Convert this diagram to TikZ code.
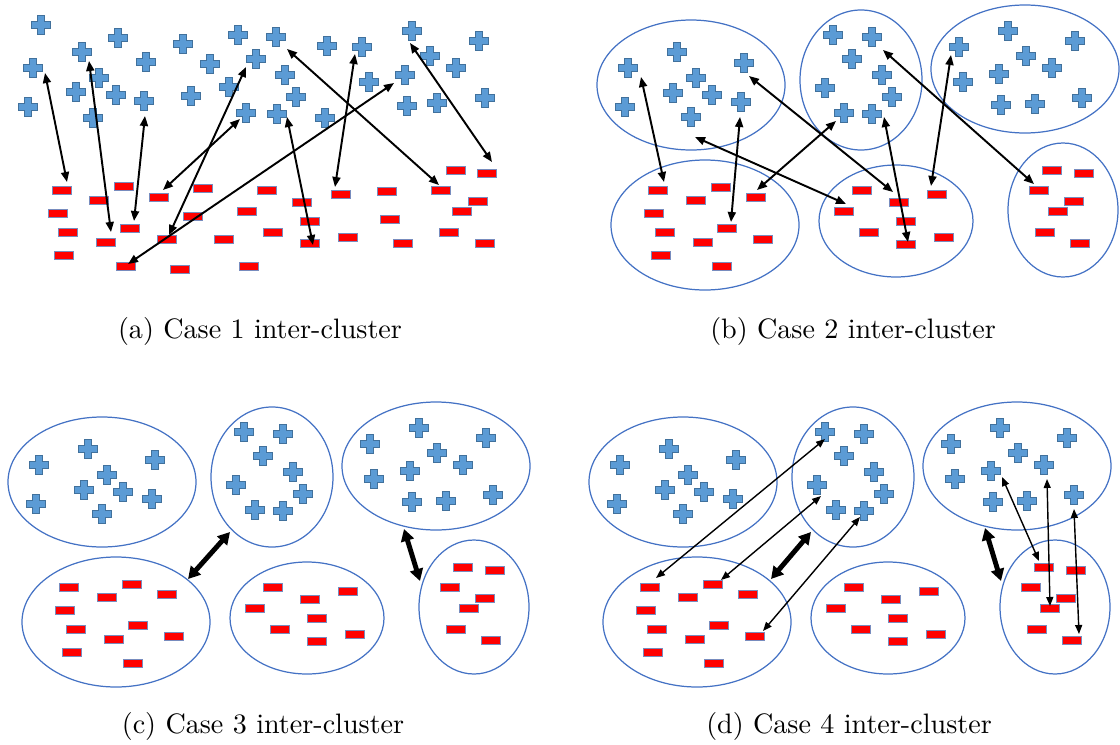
\documentclass[tikz,border=0pt]{standalone}
\usepackage{fontspec}
\newfontfamily\capfont{lmroman10-regular.otf}
\usetikzlibrary{arrows.meta}

\tikzset{
  pluspic/.pic={
    \filldraw[fill=plusblue, draw=plusedge, line width=0.4pt]
      (-3.3,-9.5) -- (3.3,-9.5) -- (3.3,-3.3) -- (9.5,-3.3) -- (9.5,3.3)
      -- (3.3,3.3) -- (3.3,9.5) -- (-3.3,9.5) -- (-3.3,3.3) -- (-9.5,3.3)
      -- (-9.5,-3.3) -- (-3.3,-3.3) -- cycle;
  },
  minuspic/.pic={
    \filldraw[fill=minusred, draw=minusedge, line width=0.4pt]
      (-9.5,-4) rectangle (9.5,4);
  },
  clusterline/.style={draw=clusterblue, line width=0.7pt},
  pairarrow/.style={<->, >={Triangle[length=2mm, width=1.6mm]}, line width=1.1pt},
  lightarrow/.style={<->, >={Triangle[length=1.8mm, width=1.4mm]}, line width=0.8pt},
  boldarrow/.style={<->, >={Triangle[length=2.4mm, width=2.6mm]}, line width=2.8pt},
  caption/.style={anchor=base, font=\capfont\fontsize{16}{19}\selectfont}
}

\begin{document}
\begin{tikzpicture}[x=0.2mm, y=-0.2mm]

% === Colors ===
\definecolor{plusblue}{RGB}{91,155,213}
\definecolor{plusedge}{RGB}{65,113,156}
\definecolor{minusred}{RGB}{255,0,0}
\definecolor{minusedge}{RGB}{120,140,190}
\definecolor{clusterblue}{RGB}{68,114,196}

\useasboundingbox (0,0) rectangle (1120,744);

% === (a) no clusters ===
\foreach \x/\y in {
  41/25, 82/52, 118/38, 33/68, 146/62, 28/107, 76/92, 99/78, 93/118,
  116/95, 144/101, 183/44, 210/64, 191/96, 238/35, 276/37, 256/59,
  229/87, 246/113, 285/75, 296/97, 277/114, 327/46, 362/47, 369/82,
  325/118, 412/31, 430/56, 405/75, 407/106, 437/103, 456/68, 479/41, 485/98
}{
  \pic at (\x,\y) {pluspic};
}
\foreach \x/\y in {
  62/190, 124/186, 99/200, 58/213, 68/232, 106/242, 64/255, 130/228,
  159/197, 203/188, 193/216, 167/239, 224/239, 126/266, 180/269, 249/266,
  267/190, 247/211, 273/232, 302/202, 310/221, 310/243, 341/194, 387/191,
  390/219, 348/237, 403/243, 441/190, 456/170, 487/173, 478/201, 462/211,
  449/232, 485/243
}{
  \pic at (\x,\y) {minuspic};
}
\foreach \i/\xa/\ya/\xb/\yb in {
  1/45/73/67/182, 2/89/61/111/232, 3/145/116/134/221, 4/240/119/163/190,
  5/246/67/169/235, 6/394/83/128/264, 7/287/49/439/185, 8/355/54/335/187,
  9/287/117/313/245, 10/410/43/492/162
}{
  \coordinate (a\i-top) at (\xa,\ya);
  \coordinate (a\i-bot) at (\xb,\yb);
  \draw[pairarrow] (a\i-top) -- (a\i-bot);
}

% === (b), (c), (d) same clusters, shifted ===
\foreach \dx/\dy in {0/0, -589/397, -8/397}{
  \begin{scope}[shift={(\dx,\dy)}]
    \foreach \cx/\cy/\rx/\ry in {
      691/85/94/65, 861/80/61/70, 1025/69/94/64,
      705/225/94/65, 896/221/77/56, 1063/210/55/67
    }{
      \draw[clusterline] (\cx,\cy) ellipse [x radius=\rx, y radius=\ry];
    }
    \foreach \x/\y in {
      628/68, 677/52, 744/63, 696/78, 673/93, 712/95, 741/102, 625/107, 691/117,
      833/35, 872/37, 852/59, 882/75, 825/88, 892/97, 844/113, 872/114,
      959/47, 1008/31, 1075/41, 1026/56, 1052/68, 963/82, 999/74, 1001/105,
      1035/104, 1082/98
    }{
      \pic at (\x,\y) {pluspic};
    }
    \foreach \x/\y in {
      658/190, 721/187, 696/200, 654/213, 756/197, 665/232, 727/228, 703/242,
      763/239, 661/255, 722/266,
      862/190, 899/202, 937/194, 844/211, 906/221, 869/232, 906/244, 944/237,
      1052/170, 1084/173, 1039/190, 1074/201, 1058/211, 1045/232, 1080/243
    }{
      \pic at (\x,\y) {minuspic};
    }
  \end{scope}
}

% === (b) arrows ===
\foreach \i/\xa/\ya/\xb/\yb in {
  1/641/77/664/182, 2/740/117/731/222, 3/749/76/893/192, 4/836/121/757/190,
  5/695/137/846/204, 6/884/117/908/242, 7/951/55/931/186, 8/883/50/1034/184
}{
  \coordinate (b\i-top) at (\xa,\ya);
  \coordinate (b\i-bot) at (\xb,\yb);
  \draw[pairarrow] (b\i-top) -- (b\i-bot);
}

% === (c) arrows ===
\foreach \i/\xa/\ya/\xb/\yb in {1/230/532/188/579, 2/404/529/420/581}{
  \coordinate (c\i-top) at (\xa,\ya);
  \coordinate (c\i-bot) at (\xb,\yb);
  \draw[boldarrow] (c\i-top) -- (c\i-bot);
}

% === (d) arrows ===
\foreach \i/\xa/\ya/\xb/\yb in {1/811/532/771/579, 2/985/528/1001/581}{
  \coordinate (d\i-top) at (\xa,\ya);
  \coordinate (d\i-bot) at (\xb,\yb);
  \draw[boldarrow] (d\i-top) -- (d\i-bot);
}
\foreach \i/\xa/\ya/\xb/\yb in {
  3/825/439/656/578, 4/821/496/721/580, 5/860/517/763/631,
  6/1002/477/1039/561, 7/1047/479/1050/606, 8/1074/509/1079/634
}{
  \coordinate (d\i-top) at (\xa,\ya);
  \coordinate (d\i-bot) at (\xb,\yb);
  \draw[lightarrow] (d\i-top) -- (d\i-bot);
}

% === Captions ===
\node[caption] (capa) at (260,338) {(a) Case 1 inter-cluster};
\node[caption] (capb) at (853,338) {(b) Case 2 inter-cluster};
\node[caption] (capc) at (263,733) {(c) Case 3 inter-cluster};
\node[caption] (capd) at (849,733) {(d) Case 4 inter-cluster};

\end{tikzpicture}
\end{document}
